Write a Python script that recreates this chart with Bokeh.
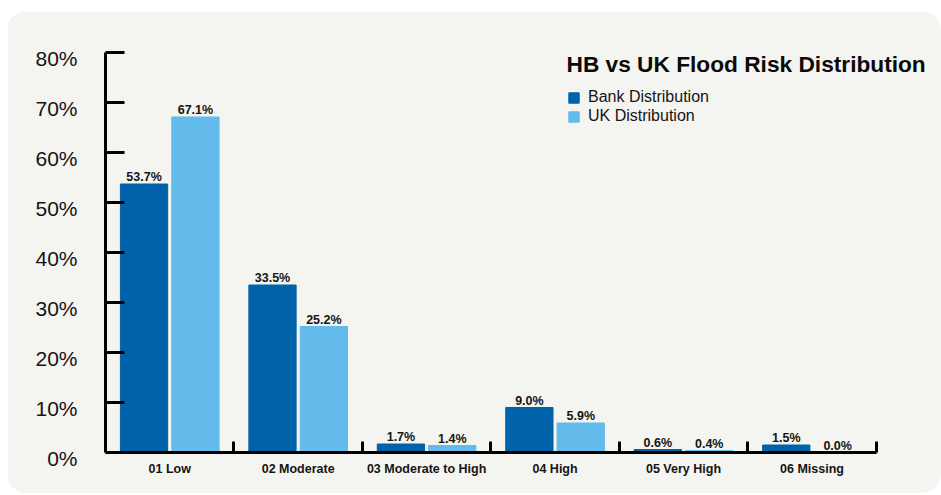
from bokeh.plotting import figure
from bokeh.models import (ColumnDataSource, FixedTicker, Range1d, Legend, LegendItem,
                          Label, PrintfTickFormatter, LinearAxis, CustomLabelingPolicy)
from bokeh.core.properties import value
from bokeh.embed import file_html
from bokeh.resources import INLINE

# ---- data ----
categories = ["01 Low", "02 Moderate", "03 Moderate to High", "04 High", "05 Very High", "06 Missing"]
bank_values = [53.7, 33.5, 1.7, 9.0, 0.6, 1.5]
uk_values = [67.1, 25.2, 1.4, 5.9, 0.4, 0.0]
y_ticks = [0, 10, 20, 30, 40, 50, 60, 70, 80]
series_names = ["Bank Distribution", "UK Distribution"]
title_text = "HB vs UK Flood Risk Distribution"

# ---- style ----
BANK = "#0062a8"
UK = "#62bbea"
BG = "#f4f4f0"
TXT = "#141414"
FONT = "Liberation Sans"
OFFSET = 0.2
BAR_W = 0.368
Y_MIN, Y_MAX = -5, 80      # frame extends below 0 to hold the category labels
X_MAX = 6.454              # frame extends right of the axis to hold the title
LAB_SHIFT = 1.2            # tick labels sit just below their tick

n = len(categories)
centers = [i + 0.5 for i in range(n)]
bank_src = ColumnDataSource(dict(x=[c - OFFSET for c in centers], top=bank_values,
                                 lab=[f"{v:.1f}%" for v in bank_values]))
uk_src = ColumnDataSource(dict(x=[c + OFFSET for c in centers], top=uk_values,
                               lab=[f"{v:.1f}%" for v in uk_values]))

p = figure(width=934, height=482, output_backend="svg", toolbar_location=None,
           x_range=Range1d(0, X_MAX), y_range=Range1d(Y_MIN, Y_MAX),
           min_border_left=98, min_border_right=7, min_border_top=41, min_border_bottom=16,
           margin=(11, 0, 0, 7))
p.styles = {"border-radius": "20px", "overflow": "hidden"}
p.background_fill_color = BG
p.border_fill_color = BG
p.outline_line_color = None
p.grid.visible = False
p.extra_y_ranges = {"lab": Range1d(Y_MIN + LAB_SHIFT, Y_MAX + LAB_SHIFT)}

r1 = p.vbar(x="x", top="top", bottom=0, width=BAR_W, source=bank_src, color=BANK)
r2 = p.vbar(x="x", top="top", bottom=0, width=BAR_W, source=uk_src, color=UK)

for src in (bank_src, uk_src):
    p.text(x="x", y="top", text="lab", source=src, text_align="center",
           text_baseline="bottom", y_offset=0, text_font=value(FONT),
           text_font_style="bold", text_font_size="12.5px", text_color=TXT)

no_labels = CustomLabelingPolicy(code="""
    for (const i of Array.from(indices)) indices.unset(i)
    return indices
""")

# y axis: line and ticks only
ya = p.yaxis[0]
ya.ticker = FixedTicker(ticks=y_ticks)
ya.bounds = (0, Y_MAX)
ya.axis_line_width = 3
ya.axis_line_color = "black"
ya.major_tick_in = 19
ya.major_tick_out = 0
ya.major_tick_line_width = 3
ya.major_tick_line_color = "black"
ya.minor_tick_line_color = None
ya.major_label_policy = no_labels
ya.major_label_standoff = 0

# y tick labels (shifted a little below each tick)
la = LinearAxis(y_range_name="lab", ticker=FixedTicker(ticks=y_ticks),
                formatter=PrintfTickFormatter(format="%d%%"))
la.axis_line_color = None
la.major_tick_line_color = None
la.minor_tick_line_color = None
la.major_tick_in = 0
la.major_tick_out = 0
la.major_label_text_font = FONT
la.major_label_text_font_size = "21px"
la.major_label_text_color = TXT
la.major_label_standoff = 13
p.add_layout(la, "left")

# x axis: labels at category centres, separator ticks at boundaries
xa = p.xaxis[0]
xa.fixed_location = 0
xa.bounds = (0, n)
xa.ticker = FixedTicker(ticks=centers, minor_ticks=list(range(1, n + 1)))
xa.major_label_overrides = {c: cat for c, cat in zip(centers, categories)}
xa.major_tick_line_color = None
xa.minor_tick_in = 11
xa.minor_tick_out = 0
xa.minor_tick_line_width = 3
xa.minor_tick_line_color = "black"
xa.axis_line_width = 3
xa.axis_line_color = "black"
xa.major_label_text_font = FONT
xa.major_label_text_font_style = "bold"
xa.major_label_text_font_size = "12.5px"
xa.major_label_text_color = TXT
xa.major_label_standoff = 3

legend = Legend(items=[LegendItem(label=series_names[0], renderers=[r1]),
                       LegendItem(label=series_names[1], renderers=[r2])],
                location=(462, 352), orientation="vertical")
legend.background_fill_alpha = 0
legend.border_line_color = None
legend.padding = 0
legend.margin = 0
legend.spacing = 1
legend.glyph_width = 13
legend.glyph_height = 13
legend.label_height = 13
legend.label_standoff = 8
legend.label_text_font = FONT
legend.label_text_font_size = "16px"
legend.label_text_color = TXT
p.add_layout(legend)

p.add_layout(Label(x=3.589, y=77.8, text=title_text, text_font=FONT,
                   text_font_style="bold", text_font_size="22.7px", text_color="#0a0a0a",
                   text_baseline="alphabetic"))

open("out.html", "w").write(file_html(p, INLINE))
